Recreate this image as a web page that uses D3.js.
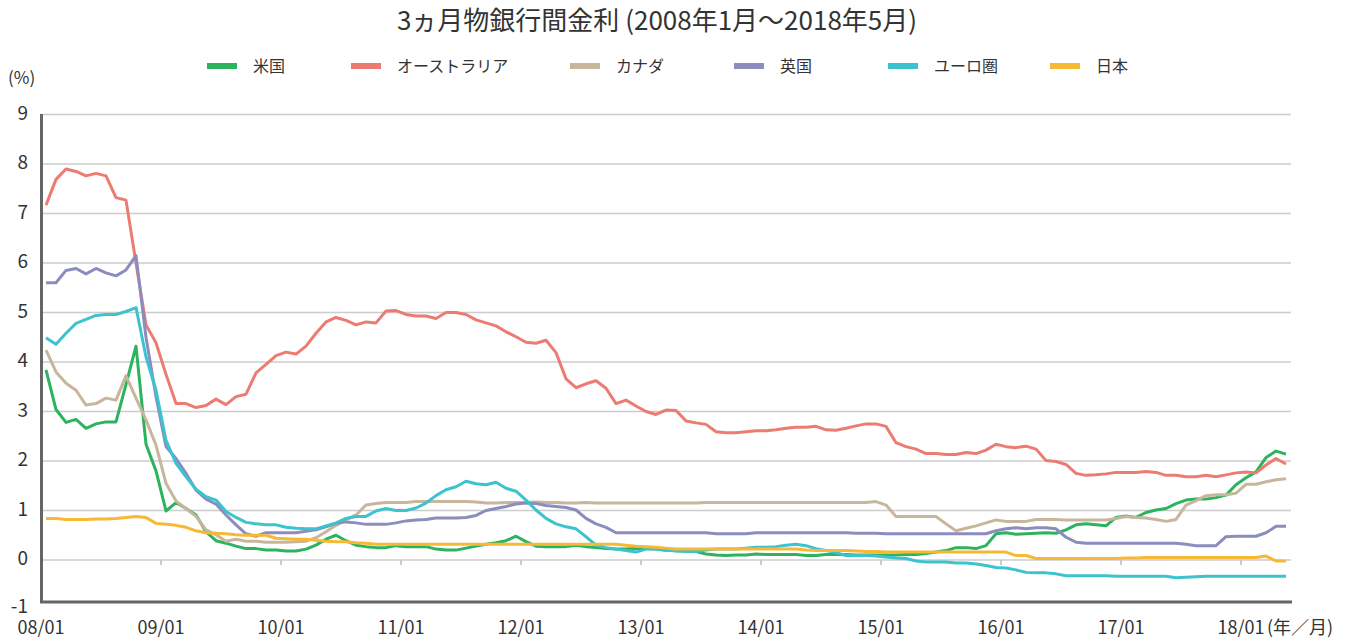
<!DOCTYPE html>
<html lang="ja">
<head>
  <meta charset="UTF-8">
  <title>3ヵ月物銀行間金利</title>
  <script src="https://d3js.org/d3.v7.min.js"></script>
  <style>
    body { margin: 0; background: #fff; }
    svg text { font-family: "Noto Sans CJK JP", "Noto Sans", sans-serif; fill: #333; }
  </style>
</head>
<body>
  <svg id="chart" width="1348" height="639"></svg>
  <script>
    // months 2008/01 .. 2018/05
    const months = [];
    for (let yy = 8; yy <= 18; yy++) {
      for (let mm = 1; mm <= 12; mm++) {
        if (yy === 18 && mm > 5) break;
        months.push(String(yy).padStart(2, '0') + '/' + String(mm).padStart(2, '0'));
      }
    }

    const yTicks = [-1, 0, 1, 2, 3, 4, 5, 6, 7, 8, 9];

    const us = [
      3.84, 3.04, 2.78, 2.84, 2.66, 2.75, 2.79, 2.79, 3.55, 4.32,
      2.34, 1.8, 0.99, 1.16, 1.04, 0.91, 0.57, 0.39, 0.34, 0.28,
      0.23, 0.23, 0.2, 0.2, 0.18, 0.18, 0.22, 0.3, 0.42, 0.5,
      0.39, 0.3, 0.27, 0.25, 0.25, 0.29, 0.27, 0.27, 0.27, 0.22,
      0.2, 0.2, 0.24, 0.28, 0.32, 0.35, 0.39, 0.48, 0.37, 0.28,
      0.27, 0.27, 0.27, 0.3, 0.27, 0.25, 0.23, 0.22, 0.22, 0.23,
      0.23, 0.22, 0.2, 0.18, 0.18, 0.17, 0.12, 0.1, 0.09, 0.1,
      0.1, 0.12, 0.11, 0.11, 0.11, 0.11, 0.09, 0.09, 0.11, 0.11,
      0.11, 0.1, 0.1, 0.1, 0.1, 0.1, 0.11, 0.11, 0.13, 0.16,
      0.19, 0.25, 0.25, 0.23, 0.29, 0.53, 0.55, 0.52, 0.53, 0.54,
      0.55, 0.54, 0.61, 0.71, 0.73, 0.71, 0.69, 0.86, 0.89, 0.86,
      0.96, 1.01, 1.04, 1.14, 1.21, 1.23, 1.23, 1.26, 1.31, 1.52,
      1.66, 1.78, 2.07, 2.2, 2.14
    ];
    const australia = [
      7.17, 7.69, 7.9, 7.85, 7.76, 7.81, 7.76, 7.32, 7.27, 6.0,
      4.75, 4.39, 3.75, 3.16, 3.16, 3.08, 3.12, 3.25, 3.14, 3.3,
      3.35, 3.78, 3.95, 4.13, 4.2, 4.16, 4.32, 4.58, 4.81, 4.9,
      4.84, 4.75, 4.81, 4.79, 5.03, 5.04, 4.96, 4.93, 4.93, 4.88,
      5.0, 5.0, 4.96, 4.85, 4.79, 4.73, 4.61, 4.51, 4.4, 4.38,
      4.44, 4.19, 3.66, 3.48, 3.56, 3.62, 3.47, 3.16, 3.23, 3.11,
      3.0, 2.94, 3.03, 3.02, 2.81, 2.77, 2.74, 2.59, 2.57, 2.57,
      2.59, 2.61, 2.61, 2.63, 2.66, 2.68, 2.68, 2.7, 2.63, 2.62,
      2.66, 2.71, 2.75, 2.75, 2.7, 2.37, 2.29, 2.24, 2.15, 2.15,
      2.13, 2.13, 2.17, 2.15, 2.22, 2.34, 2.29, 2.27, 2.3, 2.24,
      2.01, 1.99, 1.93, 1.75, 1.71, 1.72, 1.74, 1.77, 1.77, 1.77,
      1.79, 1.77, 1.71, 1.71, 1.68, 1.68, 1.71, 1.68, 1.72, 1.76,
      1.78, 1.76, 1.92, 2.05, 1.94
    ];
    const canada = [
      4.24, 3.8, 3.57, 3.43, 3.13, 3.16, 3.27, 3.23, 3.72, 3.27,
      2.83, 2.32, 1.55, 1.19, 1.04, 0.88, 0.61, 0.51, 0.38, 0.42,
      0.38, 0.38, 0.36, 0.36, 0.36, 0.37, 0.38, 0.45, 0.57, 0.7,
      0.81, 0.91, 1.11, 1.14, 1.16, 1.16, 1.16, 1.18, 1.18, 1.18,
      1.18, 1.18, 1.18, 1.17, 1.15, 1.15, 1.16, 1.16, 1.16, 1.17,
      1.16, 1.16, 1.15, 1.15, 1.16, 1.15, 1.15, 1.15, 1.15, 1.15,
      1.15, 1.15, 1.15, 1.15, 1.15, 1.15, 1.16, 1.16, 1.16, 1.16,
      1.16, 1.16, 1.16, 1.16, 1.16, 1.16, 1.16, 1.16, 1.16, 1.16,
      1.16, 1.16, 1.16, 1.18, 1.11, 0.88, 0.88, 0.88, 0.88, 0.88,
      0.73, 0.59, 0.64, 0.69, 0.75, 0.81, 0.78, 0.78, 0.78, 0.82,
      0.82, 0.82, 0.81, 0.81, 0.81, 0.81, 0.81, 0.84, 0.88, 0.86,
      0.85, 0.82, 0.78, 0.82, 1.11, 1.2, 1.3, 1.32, 1.32, 1.35,
      1.53, 1.53, 1.58, 1.62, 1.64
    ];
    const uk = [
      5.6, 5.6, 5.85, 5.89, 5.78, 5.89, 5.8, 5.74, 5.86, 6.15,
      4.5, 3.3, 2.29, 2.05, 1.75, 1.41, 1.23, 1.13, 0.91, 0.71,
      0.53, 0.48, 0.55, 0.55, 0.55, 0.55, 0.58, 0.61, 0.67, 0.74,
      0.77, 0.75, 0.72, 0.72, 0.72, 0.75, 0.79, 0.81, 0.82, 0.85,
      0.85, 0.85, 0.86, 0.9, 1.0, 1.04, 1.08, 1.13, 1.15, 1.14,
      1.1, 1.08, 1.06, 1.01, 0.84, 0.73, 0.66, 0.55, 0.55, 0.55,
      0.55, 0.55, 0.55, 0.55, 0.55, 0.55, 0.55, 0.53, 0.53, 0.53,
      0.53, 0.55, 0.55, 0.55, 0.55, 0.55, 0.55, 0.55, 0.55, 0.55,
      0.55, 0.54, 0.54, 0.54, 0.53, 0.53, 0.53, 0.53, 0.53, 0.53,
      0.53, 0.53, 0.53, 0.53, 0.53, 0.59, 0.63, 0.65, 0.63, 0.65,
      0.65, 0.63, 0.46, 0.36, 0.34, 0.34, 0.34, 0.34, 0.34, 0.34,
      0.34, 0.34, 0.34, 0.34, 0.32, 0.29, 0.29, 0.29, 0.47, 0.48,
      0.48, 0.48, 0.55, 0.68, 0.68
    ];
    const euro = [
      4.49, 4.36, 4.58, 4.78, 4.86, 4.94, 4.96, 4.96, 5.02, 5.1,
      4.1, 3.43, 2.42, 1.95, 1.68, 1.43, 1.28, 1.21, 0.98, 0.86,
      0.76, 0.73, 0.71, 0.71, 0.66, 0.64, 0.63, 0.63, 0.69, 0.75,
      0.84, 0.88, 0.88, 0.99, 1.04, 1.0, 1.0, 1.05, 1.15, 1.3,
      1.42, 1.48, 1.59, 1.54, 1.52, 1.57, 1.45, 1.39, 1.21, 1.01,
      0.84, 0.73, 0.67, 0.63, 0.47, 0.3, 0.25, 0.22, 0.19, 0.16,
      0.22, 0.22, 0.19, 0.19, 0.17, 0.17, 0.2, 0.22, 0.22, 0.22,
      0.24, 0.26, 0.26, 0.27, 0.3, 0.32, 0.29, 0.23, 0.19, 0.15,
      0.09, 0.09, 0.09, 0.08, 0.06, 0.04, 0.03, -0.02, -0.04, -0.04,
      -0.04, -0.06, -0.06, -0.08, -0.11, -0.15, -0.16, -0.2, -0.25, -0.26,
      -0.26, -0.28, -0.32, -0.32, -0.32, -0.32, -0.32, -0.33, -0.33, -0.33,
      -0.33, -0.33, -0.33, -0.36, -0.35, -0.34, -0.33, -0.33, -0.33, -0.33,
      -0.33, -0.33, -0.33, -0.33, -0.33
    ];
    const japan = [
      0.84, 0.84, 0.82, 0.82, 0.82, 0.83, 0.83, 0.84, 0.86, 0.88,
      0.86, 0.74, 0.72, 0.7, 0.66, 0.59, 0.55, 0.54, 0.53, 0.51,
      0.5, 0.5, 0.5, 0.44, 0.43, 0.42, 0.42, 0.4, 0.38, 0.37,
      0.37, 0.35, 0.34, 0.32, 0.32, 0.32, 0.32, 0.32, 0.32, 0.32,
      0.32, 0.32, 0.32, 0.32, 0.32, 0.32, 0.32, 0.32, 0.32, 0.32,
      0.32, 0.32, 0.32, 0.32, 0.32, 0.32, 0.32, 0.32, 0.3, 0.28,
      0.27, 0.26, 0.24, 0.22, 0.22, 0.22, 0.22, 0.22, 0.22, 0.22,
      0.22, 0.22, 0.22, 0.22, 0.22, 0.22, 0.2, 0.19, 0.19, 0.19,
      0.19, 0.18, 0.17, 0.17, 0.16, 0.16, 0.16, 0.16, 0.16, 0.16,
      0.16, 0.16, 0.16, 0.16, 0.16, 0.16, 0.16, 0.09, 0.09, 0.03,
      0.03, 0.03, 0.03, 0.03, 0.03, 0.03, 0.03, 0.03, 0.04, 0.04,
      0.05, 0.05, 0.05, 0.05, 0.05, 0.05, 0.05, 0.05, 0.05, 0.05,
      0.05, 0.05, 0.08, -0.02, -0.02
    ];

    const seriesNames = ['米国', 'オーストラリア', 'カナダ', '英国', 'ユーロ圏', '日本'];
    const seriesValues = [us, australia, canada, uk, euro, japan];
    const colors = ['#2db35d', '#ec7b71', '#c7b69c', '#8a8dbe', '#3cc3ce', '#f7b935'];

    const svg = d3.select('#chart');

    const x = d3.scaleBand().domain(months).range([41, 1291]).padding(0);
    const y = d3.scaleLinear().domain([-1, 9]).range([609.5, 114.5]);

    // title
    svg.append('text')
      .attr('x', 657).attr('y', 30)
      .attr('text-anchor', 'middle')
      .style('font-size', '26px')
      .text('3ヵ月物銀行間金利 (2008年1月～2018年5月)');

    // legend
    const legendX = [207, 351, 570, 734, 888, 1050];
    const legend = svg.append('g');
    seriesNames.forEach((name, i) => {
      legend.append('rect')
        .attr('x', legendX[i]).attr('y', 63)
        .attr('width', 30).attr('height', 6)
        .attr('fill', colors[i]);
      legend.append('text')
        .attr('x', legendX[i] + 46).attr('y', 72)
        .style('font-size', '16px')
        .text(name);
    });

    svg.append('text')
      .attr('x', 8).attr('y', 84)
      .style('font-size', '17px')
      .text('(%)');

    // gridlines
    svg.append('g').selectAll('line')
      .data(yTicks.filter(d => d >= 0))
      .join('line')
      .attr('x1', 41).attr('x2', 1291)
      .attr('y1', d => y(d)).attr('y2', d => y(d))
      .attr('stroke', '#cccccc').attr('stroke-width', 1.5);

    // y labels
    svg.append('g').selectAll('text')
      .data(yTicks)
      .join('text')
      .attr('x', 28).attr('y', d => y(d) + (d < 0 ? 3.5 : 5))
      .attr('text-anchor', 'end')
      .style('font-size', '19px')
      .text(d => d);

    // january ticks on zero line + labels
    const janMonths = months.filter(m => m.endsWith('/01'));
    svg.append('g').selectAll('line')
      .data(janMonths.slice(1))
      .join('line')
      .attr('x1', d => x(d)).attr('x2', d => x(d))
      .attr('y1', y(0)).attr('y2', y(0) + 5)
      .attr('stroke', '#bbbbbb').attr('stroke-width', 1.5);

    svg.append('g').selectAll('text')
      .data(janMonths)
      .join('text')
      .attr('x', d => x(d)).attr('y', 634)
      .attr('text-anchor', 'middle')
      .style('font-size', '18px')
      .text(d => d);

    svg.append('text')
      .attr('x', 1267).attr('y', 634)
      .style('font-size', '18px')
      .text('(年／月)');

    // axis lines
    svg.append('line')
      .attr('x1', 41.5).attr('x2', 41.5).attr('y1', 114).attr('y2', 603)
      .attr('stroke', '#666').attr('stroke-width', 3);
    svg.append('line')
      .attr('x1', 40).attr('x2', 1292).attr('y1', 602).attr('y2', 602)
      .attr('stroke', '#666').attr('stroke-width', 3);

    // series lines
    const line = d3.line()
      .x((d, i) => x(months[i]) + x.bandwidth() / 2)
      .y(d => y(d));

    svg.append('g').selectAll('path')
      .data(seriesValues)
      .join('path')
      .attr('d', d => line(d))
      .attr('fill', 'none')
      .attr('stroke', (d, i) => colors[i])
      .attr('stroke-width', 3)
      .attr('stroke-linejoin', 'round');
  </script>
</body>
</html>
